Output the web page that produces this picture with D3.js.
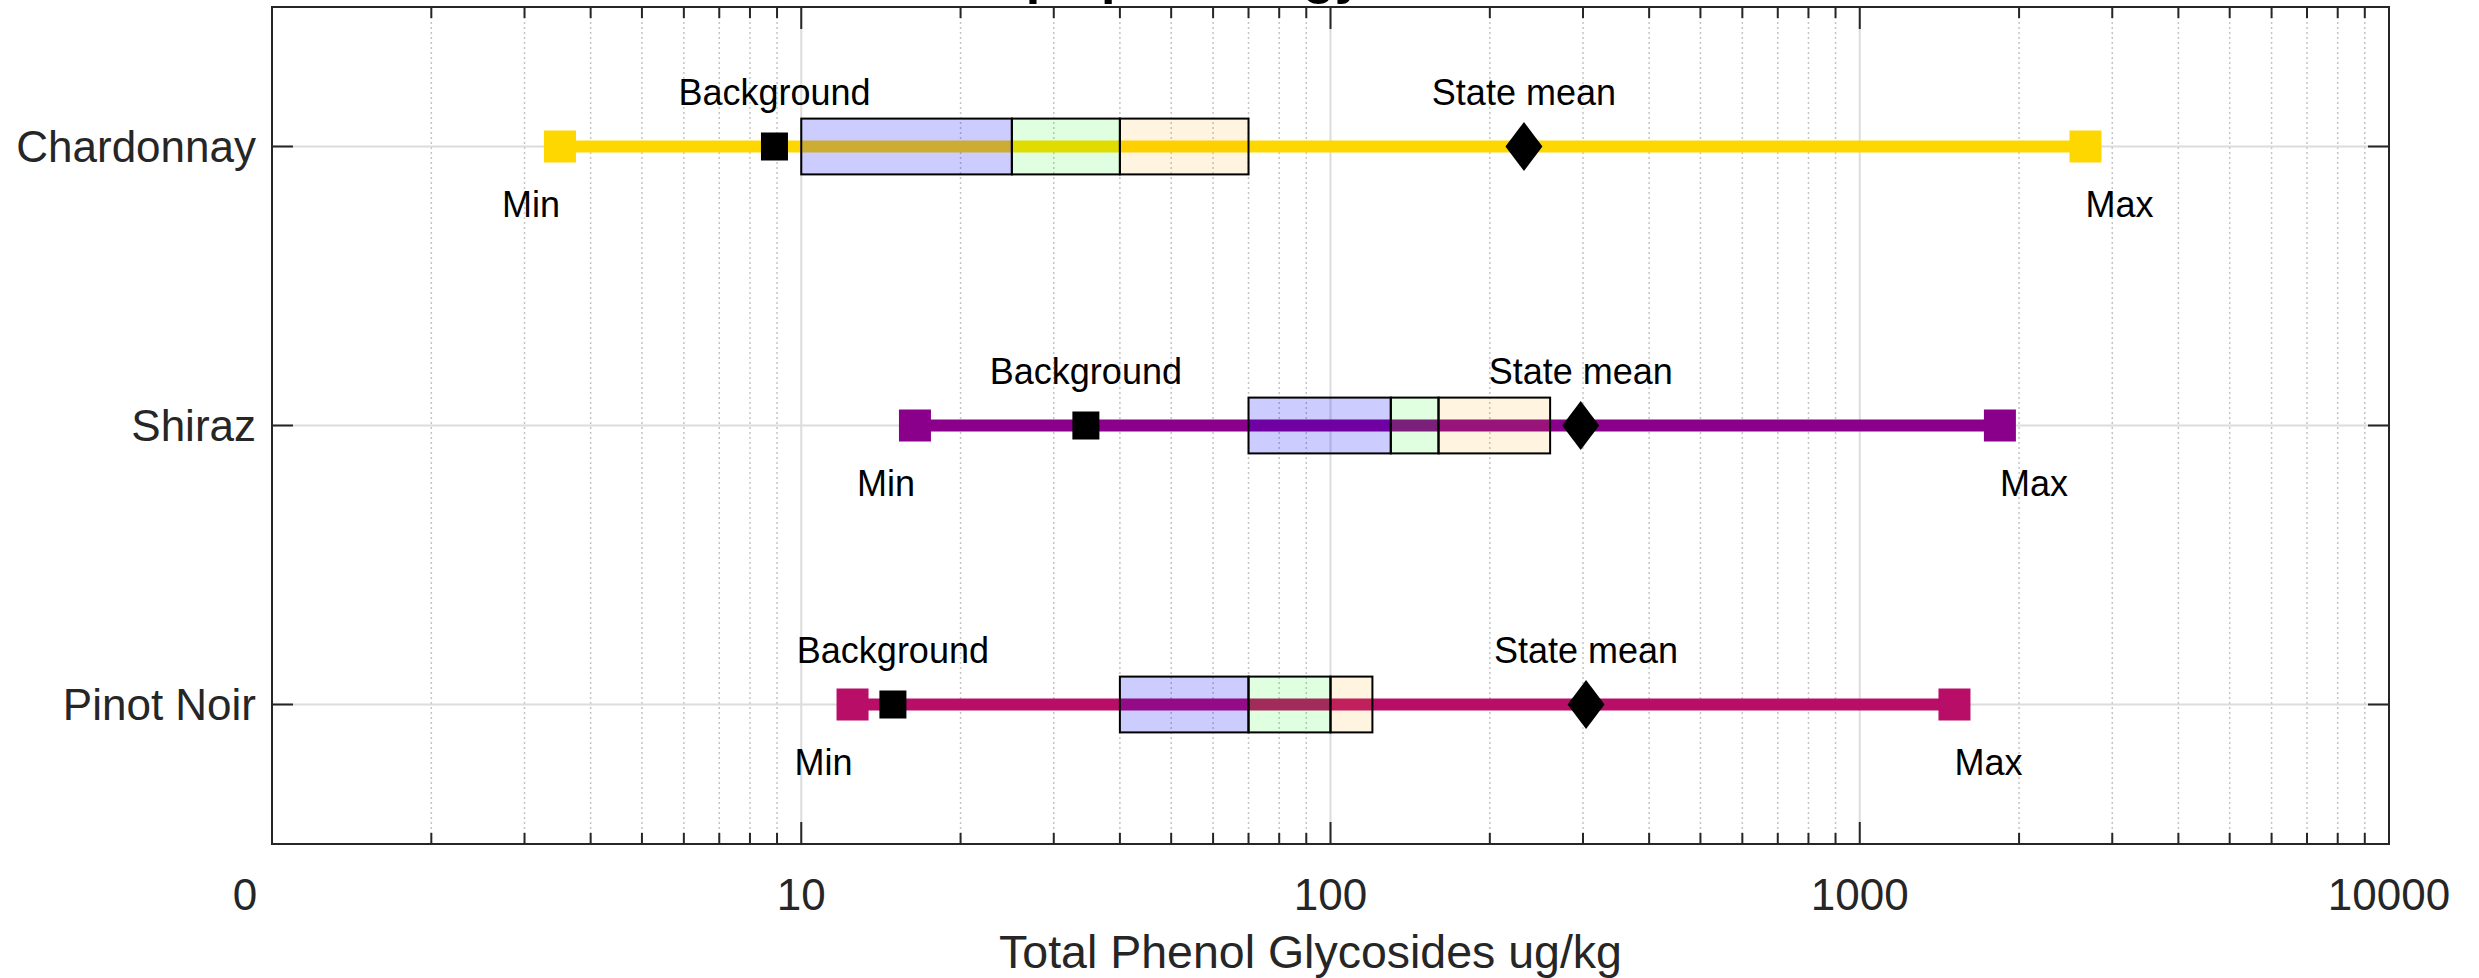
<!DOCTYPE html>
<html>
<head>
<meta charset="utf-8">
<script src="https://cdn.jsdelivr.net/npm/d3@7"></script>
<style>
  html, body { margin: 0; padding: 0; background: #ffffff; }
  svg { display: block; font-family: "Liberation Sans", Arial, Helvetica, sans-serif; }
</style>
</head>
<body>
<svg id="chart" width="2479" height="978"></svg>
<script>
// Grape varieties, top to bottom
const varieties = ["Chardonnay", "Shiraz", "Pinot Noir"];

// Total phenol glycosides (ug/kg) per variety
const minValues        = [3.5, 16.4, 12.5];
const maxValues        = [2670, 1840, 1510];
const backgroundValues = [8.9, 34.5, 14.9];
const stateMeanValues  = [232, 297, 304];

// Edges of the three shaded bands for each variety
const bandEdges = [
  [10, 25, 40, 70],
  [70, 130, 160, 260],
  [40, 70, 100, 120]
];

const varietyColors = ["#FFD700", "#8B008B", "#B80E68"];
const bandColors = ["#0000FF", "#00FF00", "#FFA500"];
const bandOpacity = [0.2, 0.12, 0.12];

const xTickValues = [1, 10, 100, 1000, 10000];
const xTickLabels = ["0", "10", "100", "1000", "10000"];

const titleText = "Grape phenology";
const xLabelText = "Total Phenol Glycosides ug/kg";

// ---- layout ----
const W = 2479, H = 978;
const margin = { left: 272, right: 90, top: 7, bottom: 134 };
const plotL = margin.left, plotR = W - margin.right;
const plotT = margin.top, plotB = H - margin.bottom;

const svg = d3.select("#chart");

const x = d3.scaleLog().domain([1, 10000]).range([plotL, plotR]);
const y = d3.scalePoint().domain(varieties).range([plotT, plotB]).padding(0.5);
const bandHalf = y.step() * 0.1;

const axisColor = "#262626";

// minor tick positions (2..9 of every decade)
const minorTicks = [];
for (let d = 1; d < 10000; d *= 10) {
  for (let k = 2; k <= 9; k++) minorTicks.push(d * k);
}

// ---- grid ----
const grid = svg.append("g");
grid.selectAll("line.minor").data(minorTicks).join("line")
  .attr("x1", d => x(d)).attr("x2", d => x(d))
  .attr("y1", plotT).attr("y2", plotB)
  .attr("stroke", "#c4c4c4").attr("stroke-width", 1.5)
  .attr("stroke-dasharray", "2,3");
grid.selectAll("line.major").data(xTickValues.slice(1, -1)).join("line")
  .attr("x1", d => x(d)).attr("x2", d => x(d))
  .attr("y1", plotT).attr("y2", plotB)
  .attr("stroke", "#dcdcdc").attr("stroke-width", 2);
grid.selectAll("line.hgrid").data(varieties).join("line")
  .attr("x1", plotL).attr("x2", plotR)
  .attr("y1", d => y(d)).attr("y2", d => y(d))
  .attr("stroke", "#dcdcdc").attr("stroke-width", 2);

// ---- range lines ----
const rows = varieties.map((v, i) => ({
  name: v, i,
  min: minValues[i], max: maxValues[i],
  bg: backgroundValues[i], mean: stateMeanValues[i],
  edges: bandEdges[i], color: varietyColors[i]
}));

svg.append("g").selectAll("line").data(rows).join("line")
  .attr("x1", d => x(d.min)).attr("x2", d => x(d.max))
  .attr("y1", d => y(d.name)).attr("y2", d => y(d.name))
  .attr("stroke", d => d.color).attr("stroke-width", 12);

// ---- shaded bands ----
const bandG = svg.append("g");
rows.forEach(r => {
  for (let k = 0; k < 3; k++) {
    const a = r.edges[k], b = r.edges[k + 1];
    bandG.append("rect")
      .attr("x", x(a)).attr("width", x(b) - x(a))
      .attr("y", y(r.name) - bandHalf).attr("height", 2 * bandHalf)
      .attr("fill", bandColors[k]).attr("fill-opacity", bandOpacity[k])
      .attr("stroke", "#000").attr("stroke-width", 2);
  }
});

// ---- markers ----
const mk = svg.append("g");
const endSize = 32;
rows.forEach(r => {
  [r.min, r.max].forEach(v => {
    mk.append("rect")
      .attr("x", x(v) - endSize / 2).attr("y", y(r.name) - endSize / 2)
      .attr("width", endSize).attr("height", endSize)
      .attr("fill", r.color);
  });
  mk.append("rect")
    .attr("x", x(r.bg) - 13.5).attr("y", y(r.name) - 14)
    .attr("width", 27).attr("height", 28)
    .attr("fill", "#000");
  const cx = x(r.mean), cy = y(r.name);
  mk.append("path")
    .attr("d", `M${cx},${cy - 24.5}L${cx + 18.5},${cy}L${cx},${cy + 24.5}L${cx - 18.5},${cy}Z`)
    .attr("fill", "#000");
});

// ---- annotations ----
const ann = svg.append("g").attr("font-size", 36).attr("fill", "#000");
rows.forEach(r => {
  const cy = y(r.name);
  ann.append("text").attr("x", x(r.bg)).attr("y", cy - 42)
    .attr("text-anchor", "middle").text("Background");
  ann.append("text").attr("x", x(r.mean)).attr("y", cy - 42)
    .attr("text-anchor", "middle").text("State mean");
  ann.append("text").attr("x", x(r.min)).attr("y", cy + 70)
    .attr("text-anchor", "end").text("Min");
  ann.append("text").attr("x", x(r.max)).attr("y", cy + 70)
    .attr("text-anchor", "start").text("Max");
});

// ---- axes box and ticks ----
const ax = svg.append("g").attr("stroke", axisColor).attr("stroke-width", 2);
ax.append("rect")
  .attr("x", plotL).attr("y", plotT)
  .attr("width", plotR - plotL).attr("height", plotB - plotT)
  .attr("fill", "none");

const majorLen = 22, minorLen = 11, yTickLen = 21;
[[plotB, -1], [plotT, 1]].forEach(([base, dir]) => {
  ax.selectAll(null).data(xTickValues).join("line")
    .attr("x1", d => x(d)).attr("x2", d => x(d))
    .attr("y1", base).attr("y2", base + dir * majorLen);
  ax.selectAll(null).data(minorTicks).join("line")
    .attr("x1", d => x(d)).attr("x2", d => x(d))
    .attr("y1", base).attr("y2", base + dir * minorLen);
});
[[plotL, 1], [plotR, -1]].forEach(([base, dir]) => {
  ax.selectAll(null).data(varieties).join("line")
    .attr("x1", base).attr("x2", base + dir * yTickLen)
    .attr("y1", d => y(d)).attr("y2", d => y(d));
});

// x tick labels (the leftmost label sits a little outside the axis corner)
svg.append("g").attr("font-size", 44).attr("fill", axisColor)
  .selectAll("text").data(xTickValues).join("text")
  .attr("x", d => x(d)).attr("y", plotB + 66)
  .attr("dx", (d, i) => i === 0 ? -27 : 0)
  .attr("text-anchor", "middle")
  .text((d, i) => xTickLabels[i]);

// y tick labels
svg.append("g").attr("font-size", 44).attr("fill", axisColor)
  .selectAll("text").data(varieties).join("text")
  .attr("x", plotL - 16).attr("y", d => y(d))
  .attr("dy", "0.35em")
  .attr("text-anchor", "end")
  .text(d => d);

// x axis label, centred under the tick-label block
svg.append("text")
  .attr("x", (plotL + plotR) / 2 - 20).attr("y", plotB + 124)
  .attr("text-anchor", "middle").attr("font-size", 46.5).attr("fill", axisColor)
  .text(xLabelText);

// title (sits above the plot area)
svg.append("text")
  .attr("x", 1150).attr("y", -7)
  .attr("text-anchor", "middle").attr("font-size", 52).attr("font-weight", "bold")
  .attr("fill", "#000")
  .text(titleText);
</script>
</body>
</html>
